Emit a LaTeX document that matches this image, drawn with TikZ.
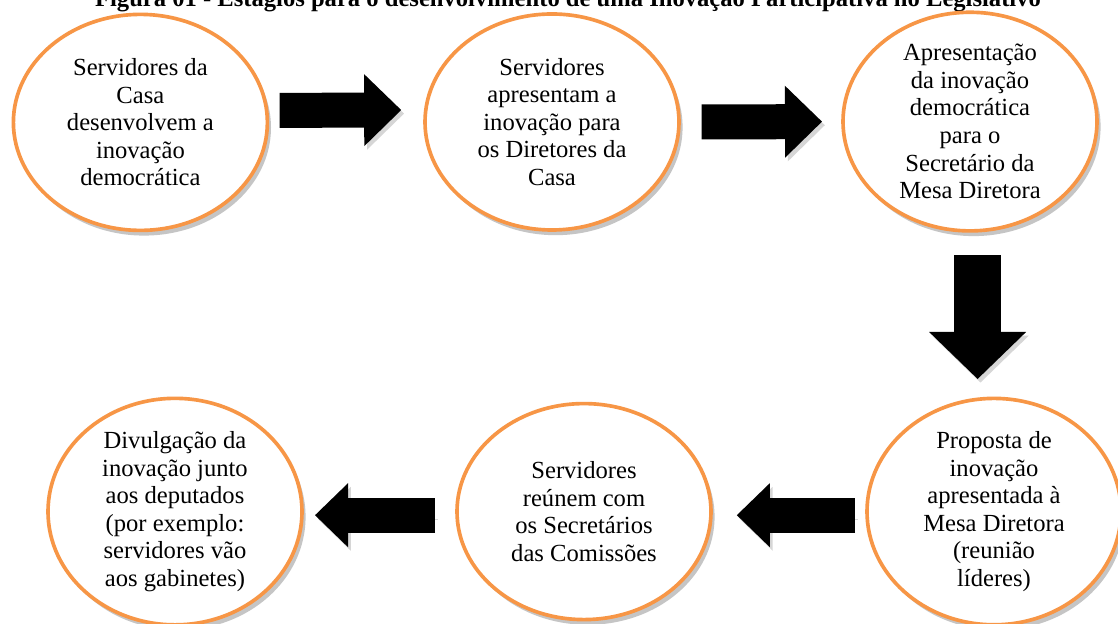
\documentclass[tikz,border=0pt]{standalone}
\usepackage{fontspec}
\setmainfont{Liberation Serif}
\usetikzlibrary{arrows.meta,shapes.geometric,shadows}
\definecolor{stageorange}{RGB}{247,150,70}
\tikzset{
  enode/.style={ellipse,draw=stageorange,line width=2.6pt,fill=white,minimum width=6.35cm,minimum height=5.4cm,inner sep=0pt,align=center,font=\fontsize{17.5}{19.6}\selectfont,
    drop shadow={shadow xshift=0.9mm,shadow yshift=-1.3mm,fill=black!45}},
  ashadow/.style={preaction={draw=black!16,transform canvas={shift={(0.07,-0.09)}}}},
  barrow/.style={line width=0.875cm,-{Triangle[length=0.925cm,width=1.8cm,line width=0pt]},ashadow},
  sarrow/.style={line width=0.875cm,-{Triangle[length=0.825cm,width=1.6cm,line width=0pt]},ashadow},
  darrow/.style={line width=1.175cm,-{Triangle[length=1.175cm,width=2.425cm,line width=0pt]},ashadow}
}

\begin{document}
\begin{tikzpicture}
\useasboundingbox (0,0) rectangle (27.95,15.6);
\fill[white] (0,0) rectangle (27.95,15.6);
% title (cut at the top)
\node[font=\bfseries\fontsize{17.5}{20}\selectfont,anchor=base] (title) at (14.2,15.425) {Figura 01 - Estágios para o desenvolvimento de uma Inovação Participativa no Legislativo};
% top row
\node[enode] (e1) at (3.51,12.54) {Servidores da\\Casa\\desenvolvem a\\inovação\\democrática};
\node[enode] (e2) at (13.8,12.55) {Servidores\\apresentam a\\inovação para\\os Diretores da\\Casa};
\node[enode] (e3) at (24.25,12.56) {Apresentação\\da inovação\\democrática\\para o\\Secretário da\\Mesa Diretora};
% bottom row
\node[enode] (e4) at (24.85,2.81) {Proposta de\\inovação\\apresentada à\\Mesa Diretora\\(reunião\\líderes)};
\node[enode] (e5) at (14.6,2.81) {Servidores\\reúnem com\\os Secretários\\das Comissões};
\node[enode] (e6) at (4.375,2.81) {Divulgação da\\inovação junto\\aos deputados\\(por exemplo:\\servidores vão\\aos gabinetes)};
% arrows
\draw[barrow,shorten <=2.6mm,shorten >=5.5mm] ([yshift=3mm]e1.east) -- ([yshift=3mm]e2.west);
\draw[barrow,shorten <=5.2mm,shorten >=4.8mm] (e2.east) -- (e3.west);
\draw[darrow,shorten <=5.6mm,shorten >=4.4mm] ([xshift=1.9mm]e3.south) -- ([xshift=1.9mm]e3.south |- e4.north);
\draw[sarrow,shorten <=2.5mm,shorten >=6mm] ([yshift=-0.9mm]e4.west) -- ([yshift=-0.9mm]e5.east);
\draw[sarrow,shorten <=5mm,shorten >=2.8mm] ([yshift=-0.9mm]e5.west) -- ([yshift=-0.9mm]e6.east);
\end{tikzpicture}
\end{document}
